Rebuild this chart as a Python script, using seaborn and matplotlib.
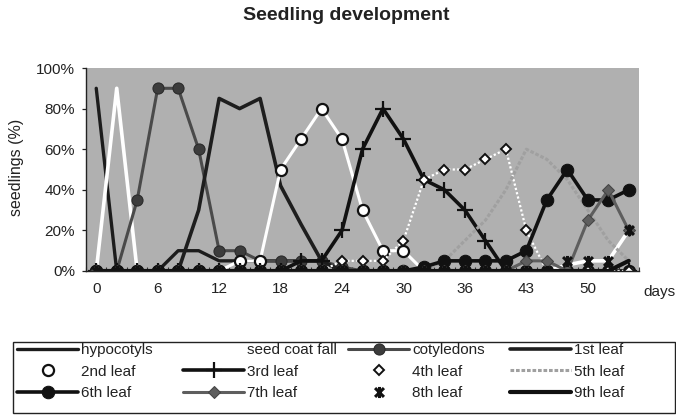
import numpy as np
import pandas as pd
import matplotlib
matplotlib.use("Agg")
import matplotlib.pyplot as plt
from matplotlib.path import Path
from matplotlib.patches import Rectangle
import seaborn as sns

# ---- data ----
days = [0, 2, 4, 6, 8, 10, 12, 14, 16, 18, 20, 22, 24, 26, 28, 30, 32, 34, 36,
        38, 40, 43, 45, 48, 50, 52, 54]
tick_days = [0, 6, 12, 18, 24, 30, 36, 43, 50]

hypocotyls     = [90, 0, 0, 0, 10, 10, 5, 5, 5, 5, 5, 5, 0, 0, 0, 0, 0, 0, 0, 0, 0, 0, 0, 0, 0, 0, 0]
seed_coat_fall = [0, 90, 0, 0, 0, 0, 0, 0, 0, 0, 0, 0, 0, 0, 0, 0, 0, 0, 0, 0, 0, 0, 0, 3, 5, 5, 20]
cotyledons     = [0, 0, 35, 90, 90, 60, 10, 10, 5, 5, 5, 5, 2, 0, 0, 0, 0, 0, 0, 0, 0, 0, 0, 0, 0, 0, 0]
leaf1          = [0, 0, 0, 0, 0, 30, 85, 80, 85, 42, 23, 5, 0, 0, 0, 0, 0, 0, 0, 0, 0, 0, 0, 0, 0, 0, 0]
leaf2          = [0, 0, 0, 0, 0, 0, 0, 5, 5, 50, 65, 80, 65, 30, 10, 10, 0, 0, 0, 0, 0, 0, 0, 0, 0, 0, 0]
leaf3          = [0, 0, 0, 0, 0, 0, 0, 0, 0, 0, 5, 5, 20, 60, 80, 65, 45, 40, 30, 15, 0, 0, 0, 0, 0, 0, 0]
leaf4          = [0, 0, 0, 0, 0, 0, 0, 0, 0, 0, 0, 0, 5, 5, 5, 15, 45, 50, 50, 55, 60, 20, 0, 0, 0, 0, 0]
leaf5          = [0, 0, 0, 0, 0, 0, 0, 0, 0, 0, 0, 0, 0, 0, 0, 0, 0, 5, 15, 25, 40, 60, 55, 45, 30, 15, 5]
leaf6          = [0, 0, 0, 0, 0, 0, 0, 0, 0, 0, 0, 0, 0, 0, 0, 0, 2, 5, 5, 5, 5, 10, 35, 50, 35, 35, 40]
leaf7          = [0, 0, 0, 0, 0, 0, 0, 0, 0, 0, 0, 0, 0, 0, 0, 0, 0, 0, 0, 0, 0, 5, 5, 0, 25, 40, 20]
leaf8          = [0, 0, 0, 0, 0, 0, 0, 0, 0, 0, 0, 0, 0, 0, 0, 0, 0, 0, 0, 0, 0, 0, 0, 5, 5, 5, 20]
leaf9          = [0, 0, 0, 0, 0, 0, 0, 0, 0, 0, 0, 0, 0, 0, 0, 0, 0, 0, 0, 0, 0, 0, 0, 0, 0, 0, 5]

series_names = ["hypocotyls", "seed coat fall", "cotyledons", "1st leaf", "2nd leaf",
                "3rd leaf", "4th leaf", "5th leaf", "6th leaf", "7th leaf", "8th leaf", "9th leaf"]
series_vals = [hypocotyls, seed_coat_fall, cotyledons, leaf1, leaf2, leaf3, leaf4,
               leaf5, leaf6, leaf7, leaf8, leaf9]

idx = np.arange(len(days))
df = pd.DataFrame({"pos": np.tile(idx, len(series_names)),
                   "series": np.repeat(series_names, len(days)),
                   "value": np.concatenate([np.array(v) / 100.0 for v in series_vals])})

# star marker (x with a vertical bar)
star = Path([(-1, -1), (1, 1), (-1, 1), (1, -1), (0, -1.25), (0, 1.25)],
            [Path.MOVETO, Path.LINETO, Path.MOVETO, Path.LINETO, Path.MOVETO, Path.LINETO])

styles = {
    "hypocotyls":     dict(color="#1c1c1c", lw=2.4, marker=None),
    "seed coat fall": dict(color="white", lw=2.6, marker=None),
    "cotyledons":     dict(color="#4a4a4a", lw=2.2, marker="o", ms=8, mfc="#3c3c3c", mec="#2a2a2a"),
    "1st leaf":       dict(color="#1e1e1e", lw=2.6, marker=None),
    "2nd leaf":       dict(color="white", lw=2.2, marker="o", ms=8, mfc="white", mec="#111111", mew=1.6),
    "3rd leaf":       dict(color="#111111", lw=2.6, marker="+", ms=11, mec="#111111", mew=1.6),
    "4th leaf":       dict(color="white", lw=1.6, ls=(0, (1, 1)), marker="D", ms=5.5, mfc="white", mec="#111111", mew=1.4),
    "5th leaf":       dict(color="#a0a0a0", lw=2.2, ls=(0, (1.2, 0.6)), marker=None),
    "6th leaf":       dict(color="#111111", lw=2.6, marker="o", ms=9, mfc="#111111", mec="#111111"),
    "7th leaf":       dict(color="#5e5e5e", lw=2.2, marker="D", ms=6, mfc="#5e5e5e", mec="#444444"),
    "8th leaf":       dict(color="#111111", lw=0, ls="None", marker=star, ms=8, mec="#111111", mew=2.2),
    "9th leaf":       dict(color="#111111", lw=3.0, marker=None),
}

sns.set_theme(style="white")
plt.rcParams["font.family"] = ["Liberation Sans", "DejaVu Sans"]
FS = 11

fig = plt.figure(figsize=(6.76, 4.15), dpi=100)
ax = fig.add_axes([86 / 676, 1 - 271 / 415, (639 - 86) / 676, (271 - 68) / 415])
ax.set_facecolor("#b0b0b0")

handles = {}
for name in series_names:
    st = dict(styles[name])
    sub = df[df["series"] == name]
    before = len(ax.lines)
    kw = dict(color=st.pop("color"), linewidth=st.pop("lw"))
    ls = st.pop("ls", "-")
    mk = st.pop("marker")
    sns.lineplot(data=sub, x="pos", y="value", ax=ax, errorbar=None, sort=False,
                 label=name, linestyle=ls, marker=mk if mk is not None else "", **kw, **st)
    line = ax.lines[before]
    line.set_linestyle(ls)
    if mk is None:
        line.set_marker("")
    handles[name] = line

ax.set_xlim(-0.5, len(days) - 0.5)
ax.set_ylim(0, 1.0)
ax.set_yticks([0, 0.2, 0.4, 0.6, 0.8, 1.0])
ax.set_yticklabels(["0%", "20%", "40%", "60%", "80%", "100%"], fontsize=FS, color="#222222")
tick_pos = [days.index(d) for d in tick_days]
ax.set_xticks(tick_pos)
ax.set_xticklabels([str(d) for d in tick_days], fontsize=FS, color="#222222")
ax.set_xticks(np.arange(-0.5, len(days), 1), minor=True)
ax.tick_params(axis="x", which="major", length=0, pad=8)
ax.tick_params(axis="x", which="minor", length=3, width=0.8, color="#333333", direction="in", bottom=True)
ax.tick_params(axis="y", which="major", length=3, width=0.9, color="#222222", direction="out", pad=5, left=True)
for s in ["top", "right"]:
    ax.spines[s].set_visible(False)
ax.spines["left"].set_color("#222222")
ax.spines["left"].set_linewidth(1.0)
ax.spines["bottom"].set_color("#222222")
ax.spines["bottom"].set_linewidth(1.0)
ax.set_xlabel("")
ax.set_ylabel("")
if ax.legend_ is not None:
    ax.legend_.remove()

fig.text(17 / 676, 1 - 167 / 415, "seedlings (%)", rotation=90, ha="center", va="center",
         fontsize=11.5, color="#222222")
fig.text(346 / 676, 1 - 15 / 415, "Seedling development", ha="center", va="center",
         fontsize=14, fontweight="bold", color="#222222")
fig.text(643 / 676, 1 - 292 / 415, "days", ha="left", va="center", fontsize=FS, color="#222222")

# legend frame
fig.add_artist(Rectangle((13 / 676, 1 - 413 / 415), 662 / 676, 71 / 415, transform=fig.transFigure,
                         facecolor="white", edgecolor="#222222", linewidth=1.0, zorder=0))

columns = [["hypocotyls", "2nd leaf", "6th leaf"],
           ["seed coat fall", "3rd leaf", "7th leaf"],
           ["cotyledons", "4th leaf", "8th leaf"],
           ["1st leaf", "5th leaf", "9th leaf"]]
col_x = [17, 183, 348, 510]
for cx, names in zip(col_x, columns):
    lg = fig.legend([handles[n] for n in names], names, loc="upper left",
                    bbox_to_anchor=(cx / 676, 1 - 343 / 415), ncol=1, fontsize=FS,
                    handlelength=4.0, handletextpad=0.2, labelspacing=0.5, borderpad=0,
                    borderaxespad=0, frameon=False)
    for t in lg.get_texts():
        t.set_color("#222222")

fig.savefig("out.png", dpi=100, facecolor="white")
